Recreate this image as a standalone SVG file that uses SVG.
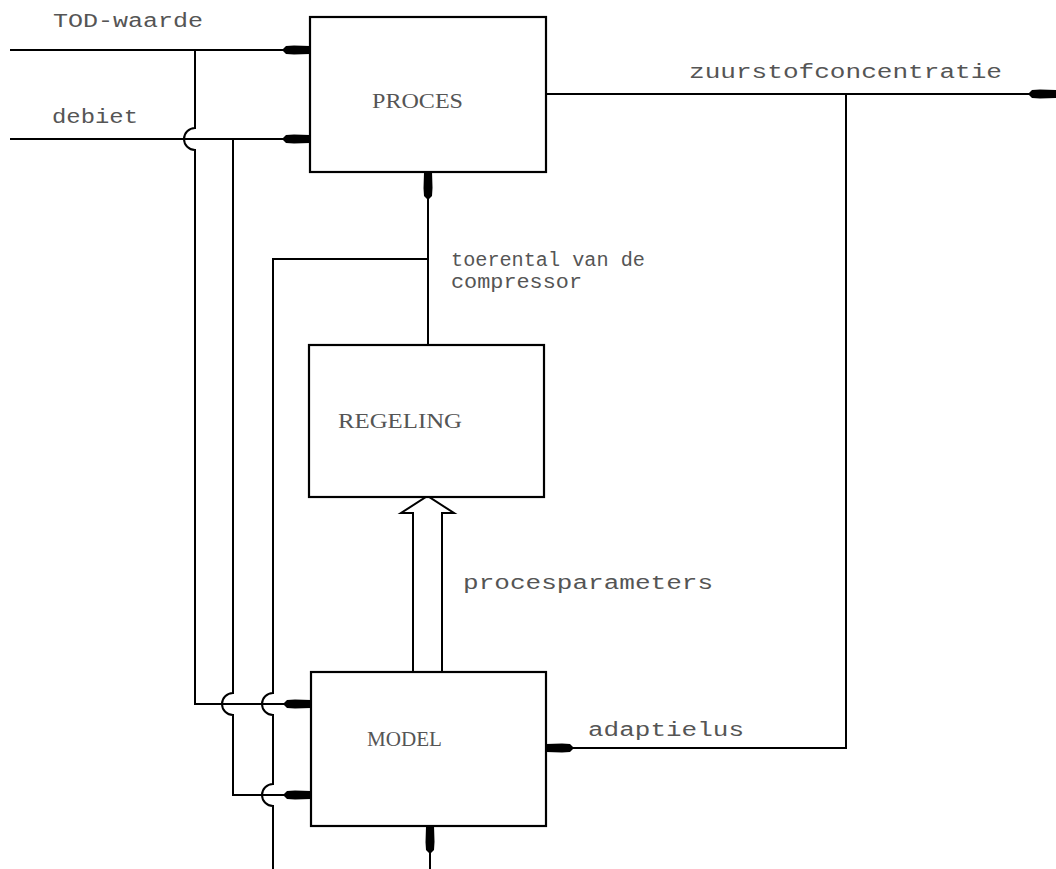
<svg xmlns="http://www.w3.org/2000/svg" width="1056" height="869" viewBox="0 0 1056 869">
<style>
.box{fill:#fff;stroke:#000;stroke-width:2.2}
.ln{fill:none;stroke:#000;stroke-width:2}
.arr{marker-end:url(#ah)}
text{font-family:"Liberation Serif",serif;font-size:22px;fill:#555}
.lc{font-family:"Liberation Mono",monospace;font-size:20px}
</style>
<defs>
<marker id="ah" markerUnits="userSpaceOnUse" markerWidth="30" markerHeight="14" refX="28" refY="7" orient="auto">
<path d="M0,7 L4,3 L12,2.5 L28,3 L28,11 L12,11.5 L4,11 Z" fill="#000"/>
</marker>
</defs>
<rect width="1056" height="869" fill="#fff"/>
<g id="connectors">
<path class="ln arr" d="M10,50 H310"/>
<path class="ln arr" d="M10,139 H310"/>
<path class="ln arr" d="M195,50 V128 A11,11 0 0 0 195,150 V704 H311"/>
<path class="ln arr" d="M233,139 V693 A11,11 0 0 0 233,715 V795 H311"/>
<path class="ln" d="M428,259 H273 V693 A11,11 0 0 0 273,715 V784 A11,11 0 0 0 273,806 V869"/>
<path class="ln arr" d="M428,345 V172"/>
<path class="ln arr" d="M546,94 H1056"/>
<path class="ln arr" d="M846,94 V748 H546"/>
<path class="ln arr" d="M430,869 V826"/>
<polygon class="ln" fill="#fff" points="413,672 413,513 401,513 427.5,496 454,513 442,513 442,672"/>
<text class="lc" x="53" y="27" textLength="150" lengthAdjust="spacingAndGlyphs">TOD-waarde</text>
<text class="lc" x="52" y="123" textLength="86" lengthAdjust="spacingAndGlyphs">debiet</text>
<text class="lc" x="689" y="78" textLength="313" lengthAdjust="spacingAndGlyphs">zuurstofconcentratie</text>
<text class="lc" x="451" y="266" textLength="194" lengthAdjust="spacingAndGlyphs">toerental van de</text>
<text class="lc" x="451" y="288" textLength="131" lengthAdjust="spacingAndGlyphs">compressor</text>
<text class="lc" x="463" y="589" textLength="250" lengthAdjust="spacingAndGlyphs">procesparameters</text>
<text class="lc" x="588" y="736" textLength="156" lengthAdjust="spacingAndGlyphs">adaptielus</text>
</g>
<g id="proces">
<rect class="box" x="310" y="17" width="236" height="155"/>
<text x="372" y="108" textLength="91" lengthAdjust="spacingAndGlyphs">PROCES</text>
</g>
<g id="regeling">
<rect class="box" x="309" y="345" width="235" height="152"/>
<text x="338" y="428" textLength="124" lengthAdjust="spacingAndGlyphs">REGELING</text>
</g>
<g id="model">
<rect class="box" x="311" y="672" width="235" height="154"/>
<text x="367" y="746" textLength="75" lengthAdjust="spacingAndGlyphs">MODEL</text>
</g>
</svg>
